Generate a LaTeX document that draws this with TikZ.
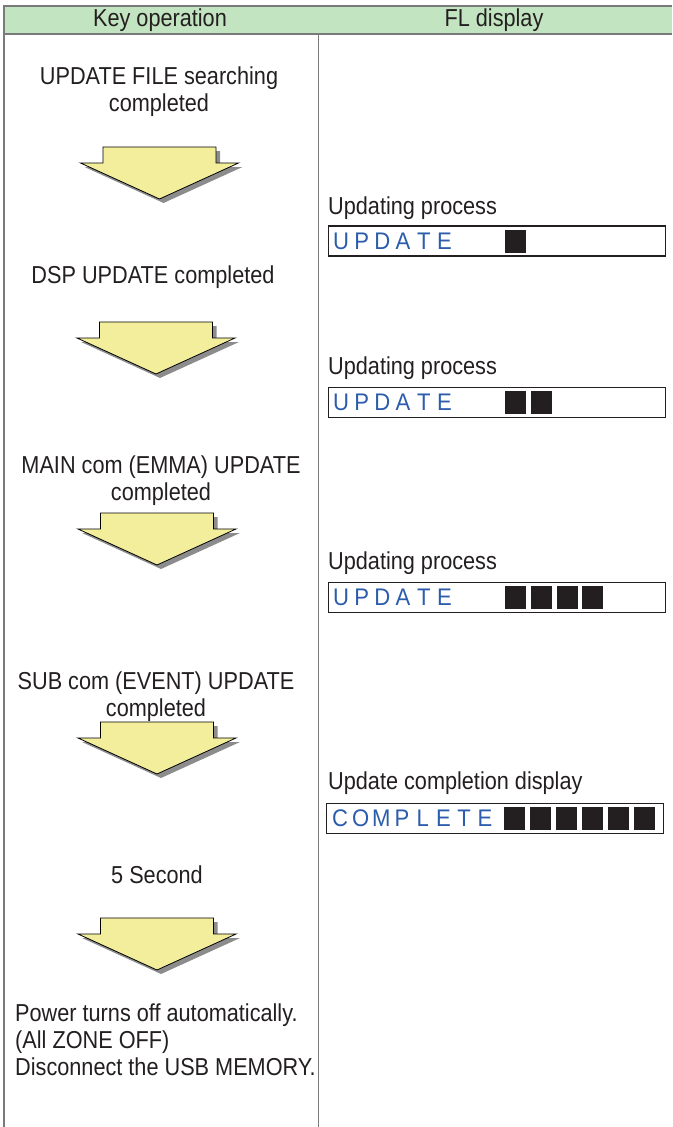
\documentclass[tikz,border=0pt]{standalone}
\usepackage{fontspec}
\setmainfont{Liberation Sans}[FakeStretch=0.885]
\newfontfamily\dispfont{Liberation Sans}[FakeStretch=0.92]
\definecolor{hdrgreen}{HTML}{C3E4C0}
\definecolor{rulegray}{HTML}{7A7A7A}
\definecolor{arrowyellow}{HTML}{F3EE9C}
\definecolor{shadowgray}{HTML}{8C8C8C}
\definecolor{dispblue}{HTML}{2C5CAC}
\definecolor{blockblack}{HTML}{231F20}
\definecolor{txt}{HTML}{231F20}
\tikzset{
  x=1pt, y=-1pt,
  body/.style={font=\fontsize{24.5}{27}\selectfont, text=txt, inner sep=0pt, align=center},
  hdr/.style={font=\fontsize{24.5}{27}\selectfont, text=txt, inner sep=0pt},
  lbl/.style={font=\fontsize{24.5}{27}\selectfont, text=txt, inner sep=0pt, anchor=west},
  dispbox/.style={draw=txt, line width=1.2pt, minimum width=337pt, minimum height=30pt, inner sep=0pt, anchor=west, fill=white},
  blk/.style={fill=blockblack, minimum width=21pt, minimum height=23pt, inner sep=0pt},
  dletter/.style={font=\dispfont\fontsize{24}{24}\selectfont, text=dispblue, inner sep=0pt},
  downarr/.pic={
    \fill[shadowgray] (-52.5,4) -- (60.5,4) -- (60.5,20) -- (83,20) -- (4,56) -- (-75,20) -- (-52.5,20) -- cycle;
    \filldraw[fill=arrowyellow, draw=black, line width=0.8pt] (-56.5,0) -- (56.5,0) -- (56.5,16) -- (79,16) -- (0,52) -- (-79,16) -- (-56.5,16) -- cycle;
  }
}
\begin{document}
\begin{tikzpicture}
\useasboundingbox (0,0) rectangle (672,1127);
% header
\fill[hdrgreen] (4,5.5) rectangle (672,33.5);
\draw[rulegray, line width=2pt] (4,5.5) -- (672,5.5);
\draw[rulegray, line width=2pt] (4,33.5) -- (672,33.5);
\draw[rulegray, line width=1.8pt] (4,4.5) -- (4,1127);
\draw[rulegray, line width=1.8pt] (318.5,34) -- (318.5,1127);
\node[hdr] (hkey) at (160,20) {Key operation};
\node[hdr] (hfl) at (494,20) {FL display};

% left column texts
\node[body] (t1) at (159,92) {UPDATE FILE searching\\completed};
\node[body] (t2) at (153,277) {DSP UPDATE completed};
\node[body] (t3) at (161,481) {MAIN com (EMMA) UPDATE\\completed};
\node[body] (t4) at (156,697) {SUB com (EVENT) UPDATE\\completed};
\node[body] (t5) at (157,875) {5 Second};
\node[body, align=left, anchor=north west] (t6) at (15,1004) {Power turns off automatically.\\(All ZONE OFF)\\Disconnect the USB MEMORY.};

% arrows
\pic (a1) at (159.5,147) {downarr};
\pic (a2) at (156,322) {downarr};
\pic (a3) at (157,513) {downarr};
\pic (a4) at (157,722) {downarr};
\pic (a5) at (157,918) {downarr};

% right column
\node[lbl] (l1) at (328,208) {Updating process};
\node[dispbox] (b1) at (328,241) {};
\node[lbl] (l2) at (328,368) {Updating process};
\node[dispbox] (b2) at (328,402.5) {};
\node[lbl] (l3) at (328,563) {Updating process};
\node[dispbox] (b3) at (328,597.5) {};
\node[lbl] (l4) at (328,783) {Update completion display};
\node[dispbox] (b4) at (326,818.5) {};

% display letters
\foreach \ch [count=\i from 0] in {U,P,D,A,T,E} {
  \node[dletter] (u1\i) at (341+20.7*\i,241) {\ch};
  \node[dletter] (u2\i) at (341+20.7*\i,402.5) {\ch};
  \node[dletter] (u3\i) at (341+20.7*\i,597.5) {\ch};
}
\foreach \ch [count=\i from 0] in {C,O,M,P,L,E,T,E} {
  \node[dletter] (c\i) at (340+20.7*\i,818.5) {\ch};
}
% blocks
\node[blk] (k11) at (515.5,241) {};
\foreach \i in {0,1} \node[blk] (k2\i) at (515.5+26*\i,402.5) {};
\foreach \i in {0,...,3} \node[blk] (k3\i) at (515.5+25.8*\i,597.5) {};
\foreach \i in {0,...,5} \node[blk] (k4\i) at (514+26*\i,818.5) {};
\end{tikzpicture}
\end{document}
